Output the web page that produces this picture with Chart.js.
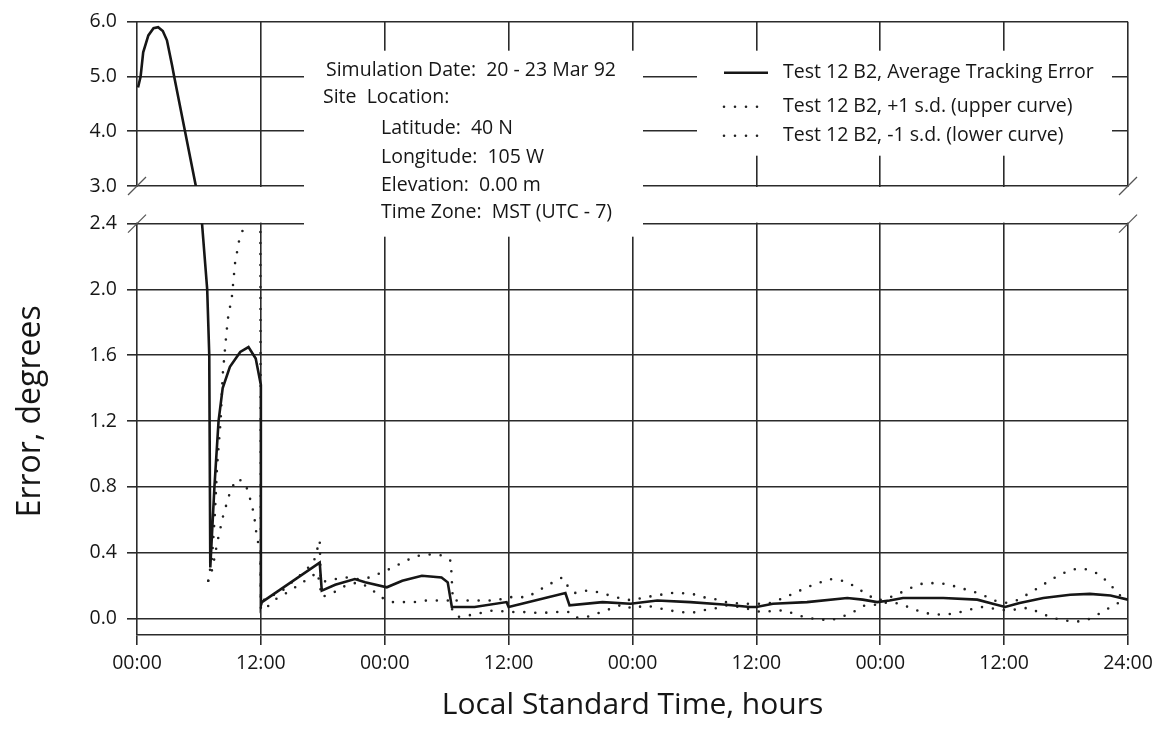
<!DOCTYPE html>
<html>
<head>
<meta charset="utf-8">
<title>Test 12 B2 tracking error</title>
<script src="https://cdn.jsdelivr.net/npm/chart.js@4.4.1/dist/chart.umd.min.js"></script>
<style>
  html, body { margin: 0; padding: 0; background: #fff; }
  #wrap { position: relative; width: 1167px; height: 748px; }
</style>
</head>
<body>
<div id="wrap"><canvas id="chart"></canvas></div>
<script>
// hours from the start of the run (4 days, 0..96)
const avgHours = [0.1, 0.35, 0.6, 1.1, 1.6, 2.05, 2.5, 2.9, 3.4, 3.6, 4.65, 5.7, 6.3, 6.8, 7.0,
  7.1, 7.5, 7.9, 8.3, 9.0, 10.0, 10.8, 11.5, 12.0, 12.0, 12.1, 17.7, 17.9, 19.2, 21.1,
  22.1, 24.2, 25.7, 27.6, 29.5, 30.1, 30.5, 32.7, 35.8, 36.0, 41.5, 41.9, 45.1, 47.8, 50.4,
  53.6, 56.8, 59.4, 60.0, 61.6, 64.9, 68.8, 70.3, 71.7, 72.9, 74.2, 78.1, 81.4, 82.9, 84.1,
  85.5, 87.8, 90.4, 92.3, 94.3, 96.0];
const avgError = [4.8, 5.0, 5.44, 5.75, 5.88, 5.9, 5.83, 5.66, 5.2, 5.0, 4.0, 3.0, 2.4, 2.0, 1.6,
  0.31, 0.8, 1.2, 1.4, 1.53, 1.62, 1.65, 1.58, 1.42, 0.08, 0.10, 0.34, 0.17, 0.205, 0.24,
  0.22, 0.19, 0.23, 0.26, 0.25, 0.22, 0.07, 0.07, 0.10, 0.07, 0.155, 0.08, 0.10, 0.09, 0.11,
  0.10, 0.085, 0.07, 0.07, 0.09, 0.10, 0.125, 0.115, 0.10, 0.11, 0.125, 0.125, 0.115, 0.09, 0.07,
  0.095, 0.125, 0.145, 0.15, 0.14, 0.115];

const upperHours = [6.9, 7.27, 7.55, 7.75, 8.1, 8.3, 8.6, 8.8, 9.2, 9.5, 9.9, 10.3, 10.8, 11.4, 11.95,
  12.0, 12.7, 13.9, 15.0, 16.1, 17.1, 17.7, 17.8, 19.2, 20.3, 21.4, 22.6, 23.7, 24.8, 26.0,
  27.1, 28.2, 29.4, 30.4, 30.6, 31.5, 32.5, 33.6, 34.8, 36.0, 37.8, 38.9, 40.0, 41.2, 41.8,
  42.4, 43.6, 44.7, 45.8, 47.0, 48.0, 49.2, 50.4, 51.5, 52.5, 53.8, 54.8, 55.9, 57.0, 58.5,
  60.4, 61.5, 62.6, 63.7, 64.9, 66.0, 67.1, 68.3, 69.4, 70.5, 71.7, 72.8, 73.9, 75.1, 76.2,
  77.3, 78.5, 79.5, 80.7, 81.9, 83.0, 84.1, 85.2, 86.2, 87.4, 88.5, 89.7, 90.8, 91.9, 93.0,
  94.2, 95.0, 96.0];
const upperError = [0.23, 0.37, 0.64, 0.92, 1.2, 1.48, 1.69, 1.82, 1.96, 2.16, 2.3, 2.37, 2.55, 2.7, 2.75,
  0.1, 0.13, 0.16, 0.22, 0.28, 0.34, 0.475, 0.22, 0.24, 0.25, 0.24, 0.25, 0.28, 0.31, 0.35,
  0.38, 0.39, 0.385, 0.35, 0.11, 0.11, 0.11, 0.11, 0.11, 0.13, 0.13, 0.17, 0.21, 0.25, 0.19,
  0.155, 0.17, 0.16, 0.14, 0.12, 0.11, 0.13, 0.14, 0.155, 0.155, 0.15, 0.13, 0.12, 0.10, 0.09,
  0.09, 0.095, 0.125, 0.155, 0.19, 0.215, 0.24, 0.23, 0.20, 0.155, 0.11, 0.125, 0.155, 0.19, 0.215,
  0.215, 0.21, 0.19, 0.17, 0.145, 0.11, 0.095, 0.11, 0.145, 0.19, 0.235, 0.275, 0.30, 0.30, 0.275,
  0.215, 0.15, 0.11];

const lowerHours = [6.9, 7.3, 7.8, 8.4, 8.8, 9.1, 9.8, 10.5, 10.9, 11.2, 11.4, 11.6, 11.95, 12.0, 12.6,
  13.5, 14.6, 15.8, 17.0, 17.5, 17.9, 19.1, 20.2, 21.4, 22.5, 23.6, 24.7, 25.8, 26.9, 28.1,
  29.2, 30.3, 30.6, 31.1, 32.2, 33.4, 34.5, 36.1, 37.3, 38.5, 39.5, 40.6, 41.8, 42.5, 43.6,
  44.8, 45.9, 47.0, 48.0, 49.2, 50.4, 51.5, 52.6, 53.8, 54.8, 55.9, 57.0, 58.5, 60.4, 61.5,
  62.7, 63.8, 64.9, 66.1, 67.2, 68.3, 69.4, 70.5, 71.7, 72.8, 73.9, 75.1, 76.2, 77.3, 78.5,
  79.5, 80.7, 81.9, 83.0, 84.1, 85.2, 86.3, 87.5, 88.6, 89.7, 90.9, 92.0, 93.1, 94.2, 95.2,
  96.0];
const lowerError = [0.23, 0.3, 0.47, 0.64, 0.72, 0.79, 0.85, 0.82, 0.74, 0.67, 0.6, 0.5, 0.4, 0.05, 0.07,
  0.12, 0.16, 0.21, 0.26, 0.28, 0.13, 0.16, 0.2, 0.22, 0.19, 0.13, 0.10, 0.10, 0.10, 0.11,
  0.11, 0.11, 0.04, 0.01, 0.02, 0.035, 0.05, 0.04, 0.04, 0.035, 0.035, 0.04, 0.04, 0.005, 0.01,
  0.035, 0.06, 0.085, 0.06, 0.08, 0.065, 0.05, 0.04, 0.035, 0.05, 0.06, 0.08, 0.07, 0.04, 0.045,
  0.05, 0.025, 0.005, -0.005, -0.01, 0.01, 0.04, 0.08, 0.085, 0.10, 0.09, 0.06, 0.035, 0.025, 0.025,
  0.035, 0.055, 0.07, 0.06, 0.05, 0.055, 0.065, 0.035, 0.005, -0.01, -0.02, -0.01, 0.025, 0.065, 0.10,
  0.11];

const seriesLabels = [
  'Test 12 B2, Average Tracking Error',
  'Test 12 B2, +1 s.d. (upper curve)',
  'Test 12 B2, -1 s.d. (lower curve)'
];
const xTickHours = [0, 12, 24, 36, 48, 60, 72, 84, 96];
const xTickLabels = ['00:00', '12:00', '00:00', '12:00', '00:00', '12:00', '00:00', '12:00', '24:00'];
const yTickValues = [0, 0.4, 0.8, 1.2, 1.6, 2.0, 2.4, 3.0, 4.0, 5.0, 6.0];
const siteNotes = [
  'Simulation Date:  20 - 23 Mar 92',
  'Site  Location:',
  'Latitude:  40 N',
  'Longitude:  105 W',
  'Elevation:  0.00 m',
  'Time Zone:  MST (UTC - 7)'
];
const yTitle = 'Error, degrees';

// broken y axis: lower panel 0..2.4 at full scale, upper panel 3..6 compressed
const BREAK_LO = 2.4, BREAK_HI = 3.0;
const GAP = 0.2286, UPPER_K = 0.3328;
function toAxis(v) {
  if (v <= BREAK_LO) return v;
  if (v >= BREAK_HI) return BREAK_LO + GAP + (v - BREAK_HI) * UPPER_K;
  return BREAK_LO + (v - BREAK_LO) / (BREAK_HI - BREAK_LO) * GAP;
}
const pts = (hs, vs) => hs.map((h, i) => ({ x: h, y: toAxis(vs[i]) }));

const INK = '#161616';
const GRID = '#2b2b2b';
const FONT = '"Open Sans", "Noto Sans", sans-serif';

const breakAndNotes = {
  id: 'breakAndNotes',
  beforeDatasetsDraw(chart) {
    const { ctx, chartArea: a, scales: { y } } = chart;
    const yHi = y.getPixelForValue(toAxis(BREAK_HI));
    const yLo = y.getPixelForValue(toAxis(BREAK_LO));
    ctx.save();
    ctx.fillStyle = '#fff';
    // empty band between the panels
    ctx.fillRect(a.left - 1, yHi + 1, a.width + 2, yLo - yHi - 2);
    // boxes behind the notes and the key
    ctx.fillRect(a.left + 167, a.top + 29, 339, 186);
    ctx.fillRect(a.left + 560, a.top + 29, 415, 105);

    ctx.fillStyle = INK;
    ctx.font = '19.5px ' + FONT;
    ctx.textBaseline = 'middle';
    const notePos = [[189, 49], [186, 76], [244, 107], [244, 136], [244, 164], [244, 191]];
    siteNotes.forEach((t, i) => ctx.fillText(t, a.left + notePos[i][0], a.top + notePos[i][1]));

    const rowY = [51, 85, 114];
    chart.data.datasets.forEach((ds, i) => {
      const yy = a.top + rowY[i];
      ctx.save();
      ctx.strokeStyle = ds.borderColor;
      ctx.lineWidth = ds.borderWidth;
      ctx.lineCap = ds.borderCapStyle || 'butt';
      ctx.setLineDash(ds.borderDash || []);
      ctx.beginPath();
      ctx.moveTo(a.left + 587, yy);
      ctx.lineTo(a.left + 631, yy);
      ctx.stroke();
      ctx.restore();
      ctx.fillText(ds.label, a.left + 646, yy);
    });
    ctx.restore();

    // curves are only drawn inside the two panels
    ctx.save();
    ctx.beginPath();
    ctx.rect(a.left - 5, a.top - 5, a.width + 10, yHi - a.top + 5);
    ctx.rect(a.left - 5, yLo, a.width + 10, a.bottom - yLo + 5);
    ctx.clip();
  },
  afterDatasetsDraw(chart) {
    const { ctx, chartArea: a, scales: { y } } = chart;
    ctx.restore();
    const yHi = y.getPixelForValue(toAxis(BREAK_HI));
    const yLo = y.getPixelForValue(toAxis(BREAK_LO));
    ctx.save();
    ctx.strokeStyle = '#555';
    ctx.lineWidth = 1.2;
    [a.left, a.right].forEach(x => {
      [yHi, yLo].forEach(yy => {
        ctx.beginPath();
        ctx.moveTo(x - 9, yy + 9);
        ctx.lineTo(x + 9, yy - 9);
        ctx.stroke();
      });
    });

    // axis title sits against the lower panel
    const midY = (y.getPixelForValue(toAxis(-0.1)) + yLo) / 2 - 18;
    ctx.translate(31, midY);
    ctx.rotate(-Math.PI / 2);
    ctx.fillStyle = INK;
    ctx.font = '32px ' + FONT;
    ctx.textAlign = 'center';
    ctx.textBaseline = 'middle';
    ctx.fillText(yTitle, 0, 0);
    ctx.restore();
  }
};

const dotted = {
  borderColor: '#222',
  borderWidth: 2.6,
  borderDash: [0, 11],
  borderCapStyle: 'round',
  pointRadius: 0,
  tension: 0,
  fill: false
};

new Chart(document.getElementById('chart'), {
  type: 'line',
  data: {
    datasets: [
      { label: seriesLabels[0], data: pts(avgHours, avgError), borderColor: INK, borderWidth: 2.6,
        borderCapStyle: 'butt', pointRadius: 0, tension: 0, fill: false },
      Object.assign({ label: seriesLabels[1], data: pts(upperHours, upperError) }, dotted),
      Object.assign({ label: seriesLabels[2], data: pts(lowerHours, lowerError) }, dotted)
    ]
  },
  options: {
    responsive: true,
    maintainAspectRatio: false,
    animation: false,
    layout: { padding: { top: 16, right: 39, left: 0, bottom: 0 } },
    plugins: { legend: { display: false }, tooltip: { enabled: false } },
    scales: {
      x: {
        type: 'linear',
        min: 0,
        max: 96,
        afterBuildTicks: s => { s.ticks = xTickHours.map(v => ({ value: v })); },
        afterFit: s => { s.height = 113; },
        ticks: {
          autoSkip: false, maxRotation: 0, padding: 7, color: INK,
          font: { family: FONT, size: 19.5 },
          callback: (v, i) => xTickLabels[i]
        },
        grid: { color: GRID, lineWidth: 1.6, tickLength: 10 },
        border: { display: true, color: GRID, width: 1.6 },
        title: {
          display: true, text: 'Local Standard Time, hours', color: INK,
          font: { family: FONT, size: 30 }, padding: { top: 0, bottom: 25 }
        }
      },
      y: {
        type: 'linear',
        min: toAxis(-0.1),
        max: toAxis(6.0),
        afterBuildTicks: s => { s.ticks = yTickValues.map(v => ({ value: toAxis(v) })); },
        afterFit: s => { s.width = 137; },
        ticks: {
          autoSkip: false, padding: 10, color: INK,
          font: { family: FONT, size: 19.5 },
          callback: (v, i) => yTickValues[i].toFixed(1)
        },
        grid: { color: GRID, lineWidth: 1.6, tickLength: 10 },
        border: { display: false }
      }
    }
  },
  plugins: [breakAndNotes]
});
</script>
</body>
</html>
